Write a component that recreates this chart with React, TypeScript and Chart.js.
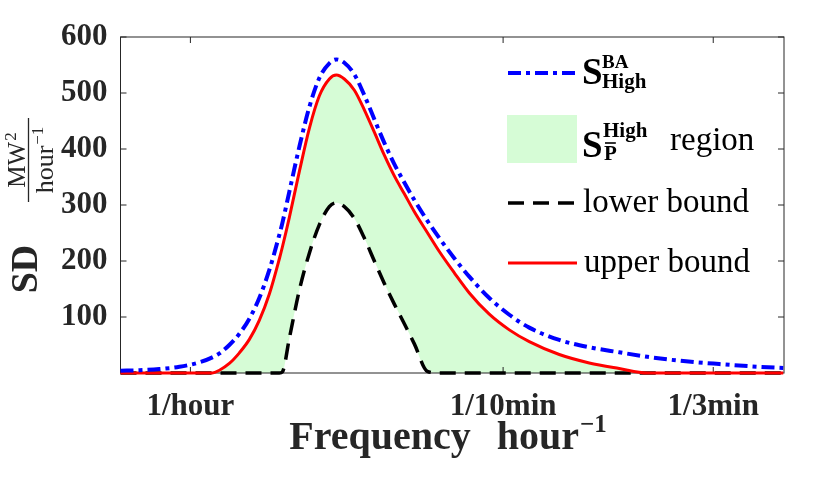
import { useEffect, useRef } from 'react';
import { Chart, registerables } from 'chart.js';
import type { Plugin } from 'chart.js';

Chart.register(...registerables);

// frequency in 1/hour (log axis)
const frequency = [
  0.67, 0.747, 0.837, 0.939, 1.053, 1.134, 1.181, 1.25, 1.324, 1.402, 1.484,
  1.572, 1.665, 1.694, 1.763, 1.867, 1.977, 2.094, 2.217, 2.308, 2.416, 2.559,
  2.709, 2.869, 3.038, 3.217, 3.407, 3.608, 3.886, 4.163, 4.536, 4.944, 5.543,
  6.217, 6.97, 8.278, 9.829, 11.67, 13.71, 16.46, 20.7, 26.03, 29.87,
];

const baHigh = [
  4, 5, 7, 11, 19, 28, 35, 50, 70, 97, 134,
  184, 247, 268, 324, 404, 475, 527, 553, 560, 554, 533,
  496, 453, 411, 373, 340, 309, 272, 241, 205, 172, 134,
  104, 81, 59, 46, 37, 29, 22, 16, 11, 9,
];

const upperBound = [
  0, 0, 0, 0, 0, 0, 5, 17, 36, 60, 94,
  141, 204, 225, 278, 360, 437, 495, 525, 532, 525, 505,
  470, 430, 389, 352, 320, 288, 251, 217, 179, 143, 105,
  77, 56, 33, 18, 8, 0, 0, 0, 0, 0,
];

const lowerBound = [
  0, 0, 0, 0, 0, 0, 0, 0, 0, 0, 0,
  0, 0, 2, 62, 148, 214, 265, 297, 304, 297, 276,
  241, 200, 160, 123, 88, 52, 3, 0, 0, 0, 0,
  0, 0, 0, 0, 0, 0, 0, 0, 0, 0,
];

const xTickValues = [1, 6, 20];
const xTickLabels = ['1/hour', '1/10min', '1/3min'];
const yTickValues = [100, 200, 300, 400, 500, 600];

const FONT = "'Liberation Serif', 'Times New Roman', serif";
const AXIS = '#262626';
const BLUE = '#0000ff';
const RED = '#ff0000';
const GREEN = 'rgb(214, 252, 214)';
const BLUE_DASH = [13, 5, 4, 5];
const BLACK_DASH = [16, 9];

function txt(ctx: CanvasRenderingContext2D, s: string, x: number, y: number, size: number, bold = false) {
  ctx.font = `${bold ? 'bold ' : ''}${size}px ${FONT}`;
  ctx.fillText(s, x, y);
  return ctx.measureText(s).width;
}

function width(ctx: CanvasRenderingContext2D, s: string, size: number, bold = false) {
  ctx.font = `${bold ? 'bold ' : ''}${size}px ${FONT}`;
  return ctx.measureText(s).width;
}

const framePlugin: Plugin<'line'> = {
  id: 'frame',
  beforeDatasetsDraw(chart) {
    const { ctx, chartArea: a, scales } = chart;
    ctx.save();
    ctx.strokeStyle = AXIS;
    ctx.lineWidth = 1;
    ctx.strokeRect(a.left, a.top, a.right - a.left, a.bottom - a.top);
    ctx.beginPath();
    xTickValues.forEach((v) => {
      const px = scales.x.getPixelForValue(v);
      ctx.moveTo(px, a.bottom);
      ctx.lineTo(px, a.bottom - 6);
      ctx.moveTo(px, a.top);
      ctx.lineTo(px, a.top + 6);
    });
    yTickValues.forEach((v) => {
      const py = scales.y.getPixelForValue(v);
      ctx.moveTo(a.left, py);
      ctx.lineTo(a.left + 6, py);
      ctx.moveTo(a.right, py);
      ctx.lineTo(a.right - 6, py);
    });
    ctx.stroke();
    ctx.restore();
  },
  afterDraw(chart) {
    const { ctx } = chart;
    ctx.save();
    ctx.textBaseline = 'alphabetic';
    ctx.textAlign = 'left';

    // legend
    ctx.lineWidth = 4;
    ctx.strokeStyle = BLUE;
    ctx.setLineDash(BLUE_DASH);
    ctx.beginPath();
    ctx.moveTo(508, 73);
    ctx.lineTo(577, 73);
    ctx.stroke();
    ctx.fillStyle = '#000';
    txt(ctx, 'S', 582, 84, 37, true);
    txt(ctx, 'BA', 602, 68, 19, true);
    txt(ctx, 'High', 602, 88, 21, true);

    ctx.fillStyle = GREEN;
    ctx.fillRect(507, 115, 70, 48);
    ctx.fillStyle = '#000';
    txt(ctx, 'S', 582, 157, 37, true);
    txt(ctx, 'High', 603, 137, 21, true);
    const pw = txt(ctx, 'P', 604, 160, 21, true);
    ctx.setLineDash([]);
    ctx.lineWidth = 1.6;
    ctx.strokeStyle = '#000';
    ctx.beginPath();
    ctx.moveTo(605, 143);
    ctx.lineTo(603 + pw, 143);
    ctx.stroke();
    txt(ctx, 'region', 670, 150, 33);

    ctx.lineWidth = 3.5;
    ctx.strokeStyle = '#000';
    ctx.setLineDash(BLACK_DASH);
    ctx.beginPath();
    ctx.moveTo(508, 203);
    ctx.lineTo(577, 203);
    ctx.stroke();
    txt(ctx, 'lower bound', 583, 212, 33);

    ctx.lineWidth = 3;
    ctx.strokeStyle = RED;
    ctx.setLineDash([]);
    ctx.beginPath();
    ctx.moveTo(508, 263);
    ctx.lineTo(577, 263);
    ctx.stroke();
    txt(ctx, 'upper bound', 584, 272, 33);

    // x title
    ctx.fillStyle = AXIS;
    const wF = width(ctx, 'Frequency', 40, true);
    const wH = width(ctx, 'hour', 40, true);
    const wS = width(ctx, '\u22121', 25, true);
    let x0 = 448 - (wF + 26 + wH + 1 + wS) / 2;
    txt(ctx, 'Frequency', x0, 449, 40, true);
    x0 += wF + 26;
    txt(ctx, 'hour', x0, 449, 40, true);
    txt(ctx, '\u22121', x0 + wH + 1, 432, 25, true);

    // y title
    ctx.save();
    ctx.translate(0, 269);
    ctx.rotate(-Math.PI / 2);
    ctx.textAlign = 'center';
    txt(ctx, 'SD', 0, 37, 38, true);
    ctx.restore();

    ctx.save();
    ctx.translate(0, 160);
    ctx.rotate(-Math.PI / 2);
    const wM = width(ctx, 'MW', 25);
    const w2 = width(ctx, '2', 17);
    let n0 = -(wM + 1 + w2) / 2;
    txt(ctx, 'MW', n0, 25, 25);
    txt(ctx, '2', n0 + wM + 1, 16, 17);
    ctx.strokeStyle = AXIS;
    ctx.lineWidth = 1.3;
    ctx.beginPath();
    ctx.moveTo(-42, 28.5);
    ctx.lineTo(42, 28.5);
    ctx.stroke();
    const wh = width(ctx, 'hour', 26);
    const wm = width(ctx, '\u22121', 17);
    n0 = -(wh + 1 + wm) / 2;
    txt(ctx, 'hour', n0, 53, 26);
    txt(ctx, '\u22121', n0 + wh + 1, 43, 17);
    ctx.restore();

    ctx.restore();
  },
};

const toPoints = (vals: number[]) => frequency.map((x, i) => ({ x, y: vals[i] }));

export default function App() {
  const canvasRef = useRef<HTMLCanvasElement>(null);

  useEffect(() => {
    document.body.style.margin = '0';
    if (!canvasRef.current) return;

    const chart = new Chart(canvasRef.current, {
      type: 'line',
      data: {
        datasets: [
          {
            label: 'S BA High',
            data: toPoints(baHigh),
            borderColor: BLUE,
            borderWidth: 4,
            borderDash: BLUE_DASH,
            fill: false,
            order: 0,
            clip: false,
          },
          {
            label: 'lower bound',
            data: toPoints(lowerBound),
            borderColor: '#000000',
            borderWidth: 3.5,
            borderDash: BLACK_DASH,
            fill: false,
            order: 2,
            clip: false,
          },
          {
            label: 'upper bound',
            data: toPoints(upperBound),
            borderColor: RED,
            borderWidth: 3,
            backgroundColor: GREEN,
            fill: 1,
            order: 1,
            clip: false,
          },
        ],
      },
      options: {
        responsive: false,
        animation: false,
        layout: { padding: { top: 37, right: 46, left: 0, bottom: 0 } },
        elements: {
          point: { radius: 0 },
          line: { cubicInterpolationMode: 'monotone' },
        },
        plugins: {
          legend: { display: false },
          tooltip: { enabled: false },
          filler: { drawTime: 'beforeDatasetsDraw' },
        },
        scales: {
          x: {
            type: 'logarithmic',
            min: 0.67,
            max: 30,
            grid: { display: false, drawTicks: false },
            border: { display: false },
            ticks: {
              autoSkip: false,
              maxRotation: 0,
              padding: 15,
              color: AXIS,
              font: { family: FONT, size: 31, weight: 'bold' },
              callback: (_v, i) => xTickLabels[i],
            },
            afterBuildTicks: (s) => {
              s.ticks = xTickValues.map((value) => ({ value }));
            },
            afterFit: (s) => {
              s.height = 125;
            },
          },
          y: {
            min: 0,
            max: 600,
            grid: { display: false, drawTicks: false },
            border: { display: false },
            ticks: {
              padding: 13,
              color: AXIS,
              font: { family: FONT, size: 31, weight: 'bold' },
            },
            afterBuildTicks: (s) => {
              s.ticks = yTickValues.map((value) => ({ value }));
            },
            afterFit: (s) => {
              s.width = 120.5;
            },
          },
        },
      },
      plugins: [framePlugin],
    });

    return () => {
      chart.destroy();
    };
  }, []);

  return <canvas ref={canvasRef} width={830} height={498} />;
}
